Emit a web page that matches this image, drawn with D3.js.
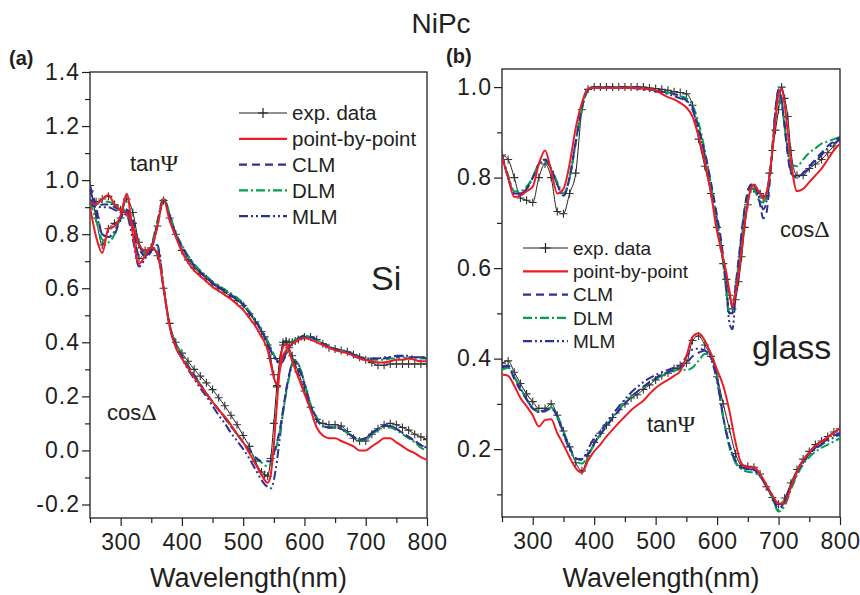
<!DOCTYPE html>
<html>
<head>
<meta charset="utf-8">
<script src="https://cdn.jsdelivr.net/npm/d3@7"></script>
<style>
body { margin: 0; background: #fff; }
svg text { font-family: Arial, "Liberation Sans", sans-serif; fill: #231f20; }
</style>
</head>
<body>
<div id="chart"></div>
<script>
// wavelength grids (nm)
var wlA = [
	250, 260, 270, 280, 290, 300, 310, 320, 330, 340, 350, 360, 370, 380, 390,
	400, 410, 420, 430, 440, 450, 460, 470, 480, 490, 500, 510, 520, 530,
	535, 540, 545, 550, 555, 560, 565, 570, 575, 580, 585, 590,
	600, 610, 620, 630, 640, 650, 660, 670, 680, 690, 700, 710, 720, 730, 740, 750, 760, 770, 780, 790, 800
];
var wlBcos = [
	250, 260, 270, 280, 290, 300, 310, 320, 330, 340, 350, 360, 370, 380, 390,
	400, 410, 420, 430, 440, 450, 460, 470, 480, 490, 500, 510, 520, 530, 540, 550, 560, 570, 580, 590,
	600, 605, 610, 615, 620, 625, 630, 635, 640, 645, 650, 655, 660, 665, 670, 675, 680, 685, 690, 695, 700, 705, 710, 715, 720,
	730, 740, 750, 760, 770, 780, 790, 800
];
var wlBtan = [
	250, 260, 270, 280, 290, 300, 310, 320, 330, 340, 350, 360, 370, 380, 390,
	400, 410, 420, 430, 440, 450, 460, 470, 480, 490, 500, 510, 520, 530, 540, 550, 560, 570, 580, 590,
	600, 610, 620, 630, 640, 650, 660, 670, 680, 690, 700, 710, 720, 730, 740, 750, 760, 770, 780, 790, 800
];

// (a) Si substrate, tanPsi
var expTanA = [
	0.96, 0.92, 0.93, 0.94, 0.91, 0.89, 0.88, 0.84, 0.71, 0.73, 0.745, 0.83, 0.925, 0.86, 0.80,
	0.74, 0.705, 0.675, 0.655, 0.635, 0.615, 0.60, 0.585, 0.57, 0.555, 0.535, 0.505, 0.475, 0.44,
	0.42, 0.39, 0.34, 0.28, 0.235, 0.33, 0.40, 0.405, 0.40, 0.40, 0.405, 0.41,
	0.42, 0.42, 0.41, 0.395, 0.38, 0.375, 0.37, 0.365, 0.355, 0.345, 0.335, 0.325, 0.315, 0.315, 0.32, 0.32, 0.32, 0.32, 0.32, 0.32, 0.32
];
var pbpTanA = [
	0.92, 0.91, 0.93, 0.945, 0.91, 0.89, 0.875, 0.83, 0.76, 0.74, 0.75, 0.83, 0.93, 0.85, 0.79,
	0.735, 0.695, 0.665, 0.645, 0.625, 0.605, 0.59, 0.575, 0.56, 0.54, 0.52, 0.49, 0.46, 0.42,
	0.40, 0.37, 0.32, 0.27, 0.245, 0.30, 0.35, 0.37, 0.385, 0.395, 0.40, 0.41,
	0.415, 0.41, 0.40, 0.39, 0.38, 0.37, 0.365, 0.36, 0.35, 0.34, 0.335, 0.33, 0.325, 0.325, 0.33, 0.335, 0.335, 0.34, 0.335, 0.33, 0.33
];
var clmTanA = [
	0.92, 0.90, 0.91, 0.91, 0.90, 0.89, 0.88, 0.82, 0.72, 0.72, 0.75, 0.84, 0.93, 0.87, 0.80,
	0.755, 0.715, 0.685, 0.66, 0.64, 0.62, 0.605, 0.59, 0.575, 0.56, 0.54, 0.51, 0.48, 0.44,
	0.42, 0.40, 0.37, 0.35, 0.335, 0.325, 0.335, 0.36, 0.38, 0.395, 0.41, 0.415,
	0.425, 0.42, 0.41, 0.395, 0.385, 0.375, 0.37, 0.365, 0.355, 0.345, 0.34, 0.34, 0.34, 0.34, 0.345, 0.345, 0.35, 0.345, 0.345, 0.345, 0.34
];
var dlmTanA = [
	0.90, 0.91, 0.92, 0.92, 0.91, 0.90, 0.88, 0.84, 0.76, 0.73, 0.76, 0.85, 0.935, 0.875, 0.805,
	0.76, 0.72, 0.69, 0.665, 0.645, 0.625, 0.61, 0.595, 0.58, 0.565, 0.545, 0.515, 0.485, 0.445,
	0.425, 0.405, 0.38, 0.355, 0.335, 0.33, 0.34, 0.36, 0.38, 0.40, 0.41, 0.415,
	0.425, 0.42, 0.41, 0.395, 0.385, 0.375, 0.37, 0.36, 0.35, 0.345, 0.34, 0.335, 0.335, 0.335, 0.34, 0.34, 0.345, 0.34, 0.34, 0.34, 0.34
];
var mlmTanA = [
	0.93, 0.905, 0.90, 0.90, 0.89, 0.88, 0.87, 0.78, 0.68, 0.71, 0.74, 0.83, 0.925, 0.87, 0.80,
	0.755, 0.715, 0.685, 0.66, 0.64, 0.62, 0.605, 0.59, 0.575, 0.56, 0.54, 0.51, 0.48, 0.44,
	0.42, 0.40, 0.37, 0.345, 0.33, 0.32, 0.33, 0.355, 0.38, 0.395, 0.405, 0.415,
	0.42, 0.42, 0.41, 0.395, 0.385, 0.375, 0.37, 0.365, 0.355, 0.345, 0.34, 0.34, 0.34, 0.345, 0.345, 0.35, 0.35, 0.35, 0.345, 0.345, 0.345
];

// (a) Si substrate, cosDelta
var expCosA = [
	0.98, 0.86, 0.76, 0.82, 0.84, 0.86, 0.93, 0.88, 0.77, 0.74, 0.75, 0.72, 0.60, 0.47, 0.40,
	0.36, 0.33, 0.30, 0.275, 0.25, 0.225, 0.195, 0.165, 0.13, 0.095, 0.055, 0.015, -0.04, -0.08,
	-0.09, -0.095, -0.03, 0.10, 0.24, 0.34, 0.39, 0.40, 0.38, 0.35, 0.32, 0.29,
	0.22, 0.16, 0.115, 0.10, 0.095, 0.095, 0.09, 0.07, 0.045, 0.035, 0.035, 0.06, 0.08, 0.095, 0.10, 0.095, 0.085, 0.075, 0.06, 0.05, 0.04
];
var pbpCosA = [
	0.90, 0.79, 0.73, 0.82, 0.83, 0.87, 0.95, 0.80, 0.69, 0.72, 0.75, 0.73, 0.60, 0.46, 0.38,
	0.34, 0.305, 0.27, 0.24, 0.21, 0.18, 0.15, 0.125, 0.095, 0.06, 0.03, -0.01, -0.05, -0.09,
	-0.11, -0.12, -0.09, 0.02, 0.17, 0.31, 0.385, 0.39, 0.365, 0.33, 0.30, 0.27,
	0.21, 0.15, 0.085, 0.055, 0.045, 0.045, 0.035, 0.025, 0.015, 0.0, 0.0, 0.015, 0.03, 0.045, 0.045, 0.03, 0.015, 0.0, -0.01, -0.025, -0.035
];
var clmCosA = [
	0.98, 0.90, 0.80, 0.79, 0.80, 0.86, 0.89, 0.85, 0.76, 0.73, 0.74, 0.75, 0.60, 0.46, 0.39,
	0.35, 0.31, 0.28, 0.245, 0.21, 0.18, 0.15, 0.12, 0.09, 0.06, 0.03, 0.0, -0.025, -0.04,
	-0.04, -0.04, -0.04, -0.01, 0.03, 0.08, 0.15, 0.22, 0.28, 0.32, 0.33, 0.31,
	0.24, 0.165, 0.115, 0.09, 0.085, 0.085, 0.08, 0.065, 0.05, 0.04, 0.045, 0.065, 0.08, 0.09, 0.09, 0.08, 0.065, 0.05, 0.035, 0.02, 0.01
];
var dlmCosA = [
	0.92, 0.85, 0.78, 0.77, 0.80, 0.86, 0.87, 0.83, 0.76, 0.735, 0.745, 0.75, 0.60, 0.465, 0.395,
	0.355, 0.315, 0.28, 0.245, 0.21, 0.18, 0.15, 0.12, 0.09, 0.06, 0.03, 0.0, -0.03, -0.045,
	-0.055, -0.06, -0.05, -0.02, 0.02, 0.07, 0.14, 0.21, 0.27, 0.32, 0.335, 0.32,
	0.25, 0.17, 0.12, 0.09, 0.085, 0.085, 0.08, 0.065, 0.05, 0.04, 0.04, 0.06, 0.075, 0.085, 0.085, 0.075, 0.06, 0.045, 0.03, 0.01, 0.0
];
var mlmCosA = [
	0.97, 0.88, 0.80, 0.79, 0.81, 0.86, 0.89, 0.84, 0.75, 0.72, 0.735, 0.76, 0.61, 0.46, 0.385,
	0.34, 0.30, 0.265, 0.23, 0.20, 0.165, 0.13, 0.10, 0.065, 0.035, 0.005, -0.03, -0.07, -0.11,
	-0.125, -0.135, -0.14, -0.11, -0.04, 0.05, 0.14, 0.22, 0.28, 0.32, 0.33, 0.32,
	0.25, 0.17, 0.12, 0.09, 0.085, 0.085, 0.08, 0.065, 0.05, 0.04, 0.045, 0.065, 0.08, 0.09, 0.09, 0.08, 0.065, 0.05, 0.035, 0.02, 0.01
];

// (b) glass substrate, cosDelta
var expCosB = [
	0.85, 0.84, 0.80, 0.755, 0.75, 0.745, 0.80, 0.83, 0.80, 0.725, 0.72, 0.765, 0.81, 0.95, 0.995,
	1.0, 1.0, 1.0, 1.0, 1.0, 1.0, 1.0, 1.0, 1.0, 0.998, 0.997, 0.995, 0.993, 0.99, 0.988, 0.985, 0.96, 0.885, 0.825, 0.765,
	0.69, 0.65, 0.61, 0.575, 0.54, 0.51, 0.53, 0.57, 0.625, 0.69, 0.74, 0.775, 0.775, 0.77, 0.765, 0.755, 0.76, 0.81, 0.86, 0.905, 0.95, 1.0, 0.975, 0.935, 0.86,
	0.805, 0.805, 0.82, 0.83, 0.84, 0.855, 0.87, 0.885
];
var pbpCosB = [
	0.845, 0.80, 0.757, 0.76, 0.77, 0.78, 0.83, 0.86, 0.815, 0.765, 0.775, 0.83, 0.91, 0.965, 0.997,
	0.998, 0.998, 0.998, 0.998, 0.998, 0.998, 0.998, 0.998, 0.997, 0.995, 0.993, 0.985, 0.978, 0.973, 0.965, 0.955, 0.935, 0.89, 0.835, 0.765,
	0.68, 0.65, 0.62, 0.59, 0.55, 0.515, 0.545, 0.59, 0.64, 0.70, 0.745, 0.775, 0.785, 0.775, 0.765, 0.755, 0.765, 0.80, 0.86, 0.93, 0.985, 0.995, 0.96, 0.90, 0.84,
	0.77, 0.775, 0.79, 0.805, 0.82, 0.84, 0.86, 0.875
];
var clmCosB = [
	0.85, 0.80, 0.765, 0.765, 0.775, 0.80, 0.83, 0.84, 0.82, 0.785, 0.76, 0.80, 0.88, 0.955, 0.995,
	1.0, 1.0, 1.0, 1.0, 1.0, 1.0, 1.0, 1.0, 0.998, 0.995, 0.993, 0.99, 0.988, 0.985, 0.98, 0.97, 0.955, 0.91, 0.855, 0.79,
	0.715, 0.675, 0.625, 0.56, 0.50, 0.50, 0.56, 0.62, 0.68, 0.735, 0.77, 0.785, 0.785, 0.77, 0.74, 0.71, 0.72, 0.78, 0.86, 0.95, 0.995, 0.97, 0.91, 0.85, 0.81,
	0.80, 0.81, 0.825, 0.84, 0.855, 0.87, 0.88, 0.89
];
var dlmCosB = [
	0.85, 0.805, 0.77, 0.77, 0.78, 0.80, 0.83, 0.835, 0.82, 0.79, 0.765, 0.80, 0.875, 0.95, 0.993,
	1.0, 1.0, 1.0, 1.0, 1.0, 1.0, 1.0, 1.0, 0.998, 0.995, 0.993, 0.99, 0.988, 0.985, 0.98, 0.975, 0.96, 0.92, 0.86, 0.785,
	0.70, 0.66, 0.61, 0.55, 0.50, 0.51, 0.56, 0.61, 0.665, 0.72, 0.76, 0.775, 0.775, 0.76, 0.745, 0.745, 0.76, 0.80, 0.86, 0.93, 0.97, 0.96, 0.91, 0.86, 0.83,
	0.825, 0.84, 0.855, 0.865, 0.875, 0.88, 0.885, 0.89
];
var mlmCosB = [
	0.85, 0.80, 0.765, 0.765, 0.775, 0.80, 0.83, 0.84, 0.82, 0.785, 0.76, 0.80, 0.88, 0.955, 0.995,
	1.0, 1.0, 1.0, 1.0, 1.0, 1.0, 0.998, 0.997, 0.995, 0.993, 0.99, 0.988, 0.985, 0.98, 0.975, 0.97, 0.95, 0.905, 0.85, 0.78,
	0.705, 0.665, 0.615, 0.55, 0.48, 0.465, 0.54, 0.61, 0.675, 0.73, 0.765, 0.78, 0.785, 0.77, 0.75, 0.73, 0.745, 0.79, 0.87, 0.95, 0.99, 0.97, 0.92, 0.86, 0.815,
	0.80, 0.81, 0.82, 0.835, 0.85, 0.865, 0.875, 0.885
];

// (b) glass substrate, tanPsi
var expTanB = [
	0.39, 0.395, 0.37, 0.345, 0.322, 0.305, 0.29, 0.29, 0.30, 0.275, 0.24, 0.205, 0.17, 0.152, 0.185,
	0.215, 0.235, 0.253, 0.27, 0.287, 0.30, 0.313, 0.32, 0.332, 0.342, 0.353, 0.362, 0.368, 0.378, 0.385, 0.39, 0.44, 0.45, 0.43, 0.405,
	0.36, 0.30, 0.245, 0.19, 0.164, 0.162, 0.16, 0.145, 0.117, 0.093, 0.078, 0.092, 0.125, 0.155, 0.178, 0.195, 0.21, 0.218, 0.228, 0.238, 0.245
];
var pbpTanB = [
	0.365, 0.362, 0.34, 0.313, 0.295, 0.275, 0.25, 0.264, 0.266, 0.235, 0.21, 0.182, 0.158, 0.148, 0.175,
	0.195, 0.21, 0.228, 0.243, 0.258, 0.272, 0.286, 0.297, 0.307, 0.322, 0.335, 0.345, 0.353, 0.362, 0.372, 0.405, 0.448, 0.456, 0.44, 0.41,
	0.375, 0.34, 0.285, 0.215, 0.167, 0.16, 0.16, 0.145, 0.122, 0.098, 0.08, 0.08, 0.115, 0.15, 0.175, 0.193, 0.207, 0.216, 0.226, 0.236, 0.246
];
var clmTanB = [
	0.38, 0.383, 0.355, 0.33, 0.31, 0.29, 0.283, 0.286, 0.29, 0.272, 0.235, 0.205, 0.18, 0.176, 0.19,
	0.212, 0.232, 0.25, 0.268, 0.285, 0.30, 0.315, 0.327, 0.338, 0.348, 0.357, 0.365, 0.37, 0.376, 0.38, 0.39, 0.405, 0.413, 0.418, 0.405,
	0.355, 0.27, 0.21, 0.175, 0.16, 0.157, 0.155, 0.14, 0.12, 0.095, 0.068, 0.085, 0.118, 0.148, 0.172, 0.19, 0.203, 0.213, 0.222, 0.23, 0.236
];
var dlmTanB = [
	0.375, 0.38, 0.36, 0.335, 0.31, 0.29, 0.285, 0.285, 0.292, 0.275, 0.24, 0.205, 0.175, 0.168, 0.185,
	0.21, 0.232, 0.252, 0.27, 0.287, 0.302, 0.316, 0.327, 0.337, 0.346, 0.355, 0.362, 0.368, 0.373, 0.376, 0.375, 0.38, 0.395, 0.41, 0.41,
	0.36, 0.27, 0.205, 0.17, 0.155, 0.15, 0.148, 0.14, 0.12, 0.092, 0.062, 0.075, 0.11, 0.142, 0.166, 0.182, 0.194, 0.203, 0.21, 0.217, 0.224
];
var mlmTanB = [
	0.383, 0.385, 0.36, 0.335, 0.31, 0.29, 0.282, 0.284, 0.29, 0.27, 0.232, 0.2, 0.178, 0.178, 0.2,
	0.225, 0.24, 0.258, 0.276, 0.294, 0.31, 0.325, 0.337, 0.348, 0.357, 0.364, 0.37, 0.375, 0.38, 0.385, 0.405, 0.42, 0.422, 0.418, 0.40,
	0.35, 0.27, 0.21, 0.172, 0.158, 0.156, 0.153, 0.14, 0.118, 0.093, 0.066, 0.083, 0.115, 0.145, 0.17, 0.188, 0.2, 0.21, 0.218, 0.226, 0.232
];

// ticks and legend labels
var xTicks = [300, 400, 500, 600, 700, 800];
var xMinor = [250, 350, 450, 550, 650, 750];
var yTicksA = [-0.2, 0.0, 0.2, 0.4, 0.6, 0.8, 1.0, 1.2, 1.4];
var yMinorA = [-0.1, 0.1, 0.3, 0.5, 0.7, 0.9, 1.1, 1.3];
var yTicksB = [0.2, 0.4, 0.6, 0.8, 1.0];
var yMinorB = [0.1, 0.3, 0.5, 0.7, 0.9];
var seriesKeys = ['exp', 'pbp', 'clm', 'dlm', 'mlm'];
var seriesNames = ['exp. data', 'point-by-point', 'CLM', 'DLM', 'MLM'];

var styles = {
	exp: { color: '#231f20', width: 1, dash: null },
	pbp: { color: '#ed1c24', width: 2, dash: null },
	clm: { color: '#2e3192', width: 2, dash: '8,5' },
	dlm: { color: '#00a14b', width: 2, dash: '9,3,2,3' },
	mlm: { color: '#2e3192', width: 2, dash: '9,3,2,3,2,3' }
};

var svg = d3.select('#chart').append('svg').attr('width', 860).attr('height', 595);

//Title
svg.append('text').attr('x', 441).attr('y', 33).attr('text-anchor', 'middle').style('font-size', '28px').text('NiPc');

function drawPanel(p) {
	var x = d3.scaleLinear().domain([250, 800]).range([p.left, p.right]);
	var y = d3.scaleLinear().domain(p.yDomain).range([p.bottom, p.top]);

	//clip so curves stay in the frame
	svg.append('clipPath').attr('id', 'clip-' + p.id).append('rect')
		.attr('x', p.left).attr('y', p.top).attr('width', p.right - p.left).attr('height', p.bottom - p.top);

	//X axis, major and minor
	var gx = svg.append('g').attr('transform', 'translate(0,' + p.bottom + ')')
		.call(d3.axisBottom(x).tickValues(xTicks).tickSize(8).tickPadding(8).tickFormat(d3.format('d')));
	svg.append('g').attr('transform', 'translate(0,' + p.bottom + ')')
		.call(d3.axisBottom(x).tickValues(xMinor).tickSize(5).tickFormat(''));

	//Y axis, major and minor
	var gy = svg.append('g').attr('transform', 'translate(' + p.left + ',0)')
		.call(d3.axisLeft(y).tickValues(p.yTicks).tickSize(8).tickPadding(2).tickFormat(function(d) {
			return d.toFixed(1);
		}));
	svg.append('g').attr('transform', 'translate(' + p.left + ',0)')
		.call(d3.axisLeft(y).tickValues(p.yMinor).tickSize(5).tickFormat(''));

	svg.selectAll('.domain').remove();
	svg.selectAll('.tick line').attr('stroke', '#231f20').attr('stroke-width', 1.2);
	gx.selectAll('text').style('font-size', '23px').style('letter-spacing', '0.5px').attr('fill', '#231f20');
	gy.selectAll('text').style('font-size', '23px').style('letter-spacing', '1px').attr('fill', '#231f20');

	//frame
	svg.append('rect').attr('x', p.left).attr('y', p.top).attr('width', p.right - p.left).attr('height', p.bottom - p.top)
		.attr('fill', 'none').attr('stroke', '#231f20').attr('stroke-width', 1.3);

	//X axis label
	svg.append('text').attr('x', (p.left + p.right) / 2 - 10).attr('y', 587).attr('text-anchor', 'middle')
		.style('font-size', '27px').text('Wavelength(nm)');

	var plot = svg.append('g').attr('clip-path', 'url(#clip-' + p.id + ')');

	function lineFor(wl) {
		return d3.line()
			.x(function(d, i) { return x(wl[i]); })
			.y(function(d) { return y(d); })
			.curve(d3.curveMonotoneX);
	}

	//exp data: thin line with crosses
	p.sets.forEach(function(set) {
		plot.append('path').datum(set.exp).attr('fill', 'none').attr('stroke', styles.exp.color)
			.attr('stroke-width', 1).attr('d', lineFor(set.wl));
		plot.append('g').selectAll('path').data(set.exp).enter().append('path')
			.attr('transform', function(d, i) { return 'translate(' + x(set.wl[i]) + ',' + y(d) + ')'; })
			.attr('d', 'M-4,0H4M0,-4V4')
			.attr('stroke', '#333').attr('stroke-width', 1.1).attr('fill', 'none');
	});

	//model curves
	['mlm', 'dlm', 'clm', 'pbp'].forEach(function(key) {
		p.sets.forEach(function(set) {
			plot.append('path').datum(set[key]).attr('fill', 'none')
				.attr('stroke', styles[key].color).attr('stroke-width', styles[key].width)
				.attr('stroke-dasharray', styles[key].dash)
				.attr('d', lineFor(set.wl));
		});
	});

	//legend
	var lg = p.legend;
	seriesKeys.forEach(function(key, i) {
		var ly = lg.y + i * lg.dy;
		svg.append('line').attr('x1', lg.x).attr('x2', lg.x + lg.len).attr('y1', ly).attr('y2', ly)
			.attr('stroke', styles[key].color).attr('stroke-width', key === 'exp' ? 1 : 2.2)
			.attr('stroke-dasharray', styles[key].dash);
		if (key === 'exp') {
			svg.append('path').attr('d', 'M' + (lg.x + lg.len / 2 - 5) + ',' + ly + 'h10M' + (lg.x + lg.len / 2) + ',' + (ly - 5) + 'v10')
				.attr('stroke', '#231f20').attr('stroke-width', 1.2);
		}
		svg.append('text').attr('x', lg.x + lg.len + 5).attr('y', ly + lg.font * 0.36)
			.style('font-size', lg.font + 'px').text(seriesNames[i]);
	});

	//panel letter
	svg.append('text').attr('x', p.letterX).attr('y', p.letterY).style('font-size', '20px').style('font-weight', 'bold').text('(' + p.id + ')');

	//annotations
	p.notes.forEach(function(n) {
		var t = svg.append('text').attr('x', n.x).attr('y', n.y).style('font-size', n.size + 'px');
		t.append('tspan').text(n.text);
		if (n.greek) t.append('tspan').style('font-family', '"Liberation Serif", "DejaVu Serif", serif').style('font-size', (n.size + 2) + 'px').text(n.greek);
	});
}

drawPanel({
	id: 'a', left: 90, right: 427, top: 72, bottom: 518,
	yDomain: [-0.25, 1.4], yTicks: yTicksA, yMinor: yMinorA,
	sets: [
		{ wl: wlA, exp: expTanA, pbp: pbpTanA, clm: clmTanA, dlm: dlmTanA, mlm: mlmTanA },
		{ wl: wlA, exp: expCosA, pbp: pbpCosA, clm: clmCosA, dlm: dlmCosA, mlm: mlmCosA }
	],
	legend: { x: 239, y: 113, dy: 25.8, len: 48, font: 20.5 },
	letterX: 9, letterY: 65,
	notes: [
		{ x: 130, y: 171, size: 22, text: 'tan', greek: '\u03A8' },
		{ x: 107, y: 420, size: 22, text: 'cos', greek: '\u0394' },
		{ x: 371, y: 290, size: 34, text: 'Si' }
	]
});

drawPanel({
	id: 'b', left: 502, right: 840, top: 69, bottom: 517,
	yDomain: [0.05, 1.04], yTicks: yTicksB, yMinor: yMinorB,
	sets: [
		{ wl: wlBcos, exp: expCosB, pbp: pbpCosB, clm: clmCosB, dlm: dlmCosB, mlm: mlmCosB },
		{ wl: wlBtan, exp: expTanB, pbp: pbpTanB, clm: clmTanB, dlm: dlmTanB, mlm: mlmTanB }
	],
	legend: { x: 523, y: 248, dy: 23.3, len: 45, font: 19 },
	letterX: 446, letterY: 63,
	notes: [
		{ x: 780, y: 237, size: 22, text: 'cos', greek: '\u0394' },
		{ x: 647, y: 432, size: 22, text: 'tan', greek: '\u03A8' },
		{ x: 752, y: 359, size: 34, text: 'glass' }
	]
});
</script>
</body>
</html>
